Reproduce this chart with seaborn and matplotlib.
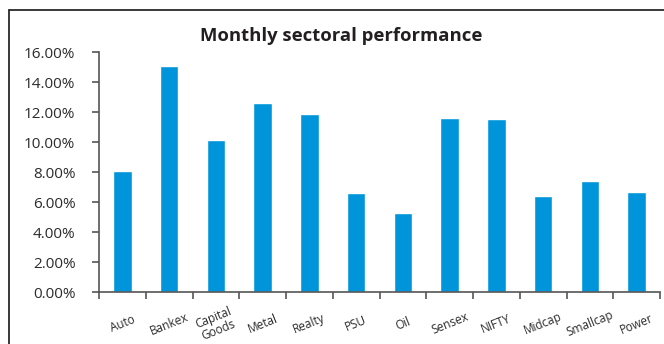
import matplotlib
matplotlib.use("Agg")
import matplotlib.pyplot as plt
from matplotlib.lines import Line2D
from matplotlib.ticker import FixedLocator, FuncFormatter
import seaborn as sns
import pandas as pd

sectors = ["Auto", "Bankex", "Capital\nGoods", "Metal", "Realty", "PSU", "Oil",
           "Sensex", "NIFTY", "Midcap", "Smallcap", "Power"]
returns_pct = [8.09, 15.09, 10.15, 12.62, 11.89, 6.62, 5.29, 11.62, 11.55, 6.42, 7.42, 6.69]
y_ticks = [0, 2, 4, 6, 8, 10, 12, 14, 16]

sns.set_style("white")
plt.rcParams["font.family"] = ["Open Sans", "DejaVu Sans"]

df = pd.DataFrame({"sector": sectors, "ret": returns_pct})

fig = plt.figure(figsize=(6.64, 3.44), dpi=100)
ax = fig.add_axes([99 / 664, 1 - 292 / 344, (660 - 99) / 664, (292 - 52) / 344])

sns.barplot(data=df, x="sector", y="ret", color="#0095DA", saturation=1,
            width=0.4, ax=ax)

ax.set_xlim(-0.5, len(sectors) - 0.5)
ax.set_ylim(0, 16)
ax.set_yticks(y_ticks)
ax.yaxis.set_major_formatter(FuncFormatter(lambda v, p: f"{v:.2f}%"))
ax.set_xlabel("")
ax.set_ylabel("")

for s in ["top", "right"]:
    ax.spines[s].set_visible(False)
for s in ["left", "bottom"]:
    ax.spines[s].set_color("#555555")
    ax.spines[s].set_linewidth(1.2)

# category labels without ticks; boundary ticks as minor ticks
ax.tick_params(axis="x", which="major", length=0, pad=23)
ax.xaxis.set_minor_locator(FixedLocator([i - 0.5 for i in range(len(sectors) + 1)]))
ax.tick_params(axis="x", which="minor", length=5, width=1.2, color="#555555", direction="out")
ax.tick_params(axis="y", length=5, width=1.2, color="#555555", direction="out",
               labelsize=11, labelcolor="#2b2b2b", pad=12)
ax.tick_params(left=True)
ax.tick_params(bottom=True, which="minor")

for lab in ax.get_xticklabels():
    lab.set_rotation(22)
    lab.set_ha("center")
    lab.set_va("center")
    lab.set_fontsize(8.5)
    lab.set_color("#2b2b2b")
    lab.set_linespacing(0.95)

fig.text(341 / 664, 1 - 36 / 344, "Monthly sectoral performance", ha="center", va="center",
         fontsize=13.3, fontweight="bold", color="#231f20")

# outer panel frame (top and left edges)
fig.add_artist(Line2D([9 / 664, 1.0], [1 - 10 / 344, 1 - 10 / 344],
                      transform=fig.transFigure, color="#2a2a2a", lw=1.3))
fig.add_artist(Line2D([9 / 664, 9 / 664], [1 - 10 / 344, 0.0],
                      transform=fig.transFigure, color="#2a2a2a", lw=1.3))

fig.savefig("out.png", dpi=100)
